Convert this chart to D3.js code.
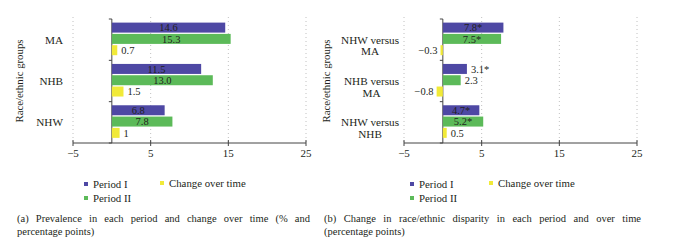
<!DOCTYPE html>
<html>
<head>
<meta charset="utf-8">
<script src="https://cdn.jsdelivr.net/npm/d3@7"></script>
<style>
  body { margin: 0; background: #fff; }
  svg { display: block; }
</style>
</head>
<body>
<svg id="chart" width="676" height="243" font-family="Liberation Serif" fill="#231f20"></svg>
<script>
// data
const series = ["Period I", "Period II", "Change over time"];
const xTicks = [-5, 5, 15, 25];

const groupsA = ["MA", "NHB", "NHW"];
const period1A = [14.6, 11.5, 6.8];
const period2A = [15.3, 13.0, 7.8];
const changeA = [0.7, 1.5, 1];
const labels1A = ["14.6", "11.5", "6.8"];
const labels2A = ["15.3", "13.0", "7.8"];
const labelsChA = ["0.7", "1.5", "1"];

const groupsB = ["NHW versus|MA", "NHB versus|MA", "NHW versus|NHB"];
const period1B = [7.8, 3.1, 4.7];
const period2B = [7.5, 2.3, 5.2];
const changeB = [-0.3, -0.8, 0.5];
const labels1B = ["7.8*", "3.1*", "4.7*"];
const labels2B = ["7.5*", "2.3", "5.2*"];
const labelsChB = ["\u22120.3", "\u22120.8", "0.5"];

const colors = ["#4e48a4", "#5cba59", "#f1ea38"];

const svg = d3.select("#chart");

function panel(cfg) {
  const { left, right, top, bottom, groups, values, labels } = cfg;
  const g = svg.append("g");

  const x = d3.scaleLinear().domain([-5, 25]).range([left, right]);
  const y = d3.scaleBand().domain(groups).range([top, bottom]);
  const inner = d3.scaleBand().domain(series).range([3.6, 36.2]).paddingInner(0.115);

  // dotted grid lines
  g.selectAll("line.grid")
    .data(xTicks)
    .join("line")
    .attr("class", "grid")
    .attr("x1", d => x(d)).attr("x2", d => x(d))
    .attr("y1", top - 2).attr("y2", bottom)
    .attr("stroke", "#b0b0b0")
    .attr("stroke-width", 0.8)
    .attr("stroke-dasharray", "1,3");

  // x axis
  const xAxis = g.append("g").attr("transform", `translate(0,${bottom})`);
  xAxis.append("line")
    .attr("x1", x(-5)).attr("x2", x(25))
    .attr("stroke", "#444").attr("stroke-width", 1);
  xAxis.selectAll("line.tick")
    .data(xTicks)
    .join("line")
    .attr("class", "tick")
    .attr("x1", d => x(d)).attr("x2", d => x(d))
    .attr("y1", -3).attr("y2", 3)
    .attr("stroke", "#444");
  xAxis.selectAll("text")
    .data(xTicks)
    .join("text")
    .attr("x", d => x(d))
    .attr("y", 14)
    .attr("text-anchor", "middle")
    .attr("font-size", 11)
    .text(d => d < 0 ? "\u2212" + Math.abs(d) : d);

  // y axis at zero
  const y0 = x(0);
  g.append("line")
    .attr("x1", y0).attr("x2", y0)
    .attr("y1", top).attr("y2", bottom)
    .attr("stroke", "#444");
  const bounds = groups.map(d => y(d)).concat([bottom]);
  g.selectAll("line.ytick")
    .data(bounds)
    .join("line")
    .attr("class", "ytick")
    .attr("x1", y0 - 3).attr("x2", y0)
    .attr("y1", d => d).attr("y2", d => d)
    .attr("stroke", "#444");

  // bars
  groups.forEach((grp, i) => {
    series.forEach((s, j) => {
      const v = values[j][i];
      const by = y(grp) + inner(s);
      const bh = inner.bandwidth();
      g.append("rect")
        .attr("x", Math.min(x(0), x(v)))
        .attr("y", by)
        .attr("width", Math.abs(x(v) - x(0)))
        .attr("height", bh)
        .attr("fill", colors[j]);
      const t = g.append("text")
        .attr("y", by + bh / 2 + 3.8)
        .attr("font-size", 10.5)
        .text(labels[j][i]);
      if (Math.abs(v) >= 4) {
        t.attr("x", (x(0) + x(v)) / 2).attr("text-anchor", "middle");
      } else if (v >= 0) {
        t.attr("x", x(v) + 4).attr("text-anchor", "start");
      } else {
        t.attr("x", x(v) - 3).attr("text-anchor", "end");
      }
    });

    // category label, lines centred on each other, block right-aligned
    const lines = grp.split("|");
    const texts = lines.map((ln, k) =>
      g.append("text")
        .attr("y", y(grp) + y.bandwidth() / 2 + 4 + k * 11.5)
        .attr("text-anchor", "middle")
        .attr("font-size", 11.2)
        .text(ln));
    const maxW = d3.max(texts, t => t.node().getComputedTextLength());
    texts.forEach(t => t.attr("x", cfg.labelX - maxW / 2));
  });

  // y title
  g.append("text")
    .attr("transform", `translate(${cfg.titleX},${(top + bottom) / 2}) rotate(-90)`)
    .attr("text-anchor", "middle")
    .attr("font-size", 10.8)
    .text("Race/ethnic groups");

  // legend
  const leg = [
    { s: 0, x: cfg.legX, y: 184 },
    { s: 1, x: cfg.legX, y: 198 },
    { s: 2, x: cfg.legX2, y: 183 }
  ];
  leg.forEach(l => {
    g.append("rect")
      .attr("x", l.x - 2).attr("y", l.y - 2)
      .attr("width", 4).attr("height", 4)
      .attr("fill", colors[l.s]);
    g.append("text")
      .attr("x", l.x + 7)
      .attr("y", l.y + 4)
      .attr("font-size", 10.8)
      .text(series[l.s]);
  });

  // caption, justified first line
  const c1 = g.append("text")
    .attr("x", cfg.capX)
    .attr("y", 222)
    .attr("font-size", 10.5)
    .text(cfg.caption[0]);
  const natural = c1.node().getComputedTextLength();
  const spaces = cfg.caption[0].split(" ").length - 1;
  c1.attr("word-spacing", (cfg.capRight - cfg.capX - natural) / spaces);
  g.append("text")
    .attr("x", cfg.capX)
    .attr("y", 235)
    .attr("font-size", 10.5)
    .text(cfg.caption[1]);
}

panel({
  left: 73, right: 306, top: 19, bottom: 143,
  groups: groupsA,
  values: [period1A, period2A, changeA],
  labels: [labels1A, labels2A, labelsChA],
  labelX: 63, titleX: 23,
  legX: 86, legX2: 162,
  capX: 17, capRight: 310,
  caption: ["(a) Prevalence in each period and change over time (% and", "percentage points)"]
});

panel({
  left: 404, right: 637, top: 19, bottom: 143,
  groups: groupsB,
  values: [period1B, period2B, changeB],
  labels: [labels1B, labels2B, labelsChB],
  labelX: 399, titleX: 330,
  legX: 412, legX2: 491,
  capX: 324, capRight: 641,
  caption: ["(b) Change in race/ethnic disparity in each period and over time", "(percentage points)"]
});
</script>
</body>
</html>
